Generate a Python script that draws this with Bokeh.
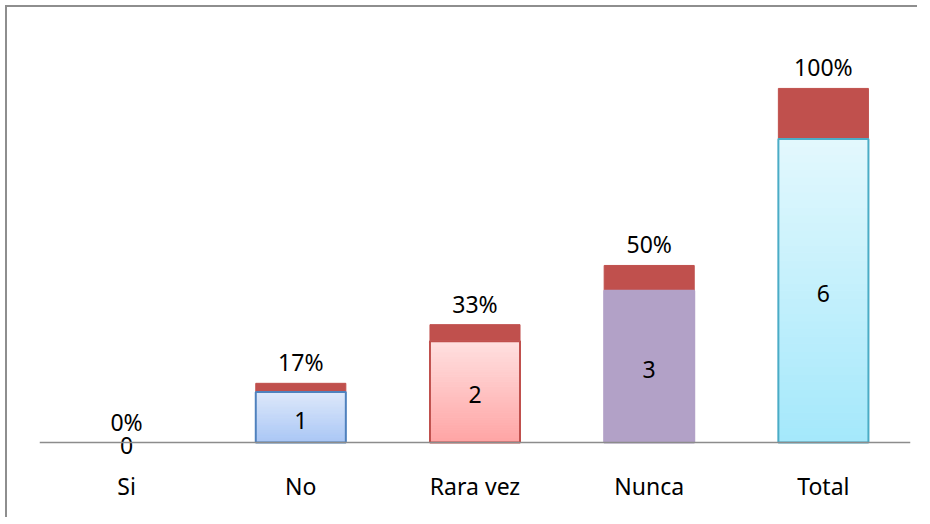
from bokeh.plotting import figure
from bokeh.models import ColumnDataSource, FactorRange, Range1d, Span
from bokeh.core.properties import value
from bokeh.embed import file_html
from bokeh.resources import INLINE

# ---- data ----
categories = ["Si", "No", "Rara vez", "Nunca", "Total"]
counts = [0, 1, 2, 3, 6]
shares = [0.0, 0.17, 0.33, 0.50, 1.00]
count_labels = ["0", "1", "2", "3", "6"]
share_labels = ["0%", "17%", "33%", "50%", "100%"]

# ---- styles ----
grad_top = ["#ffffff", "#dde8fa", "#ffe0e0", "#b2a1c7", "#e3f8fd"]
grad_bottom = ["#ffffff", "#a9c6f5", "#ffa4a4", "#b2a1c7", "#a4e8fb"]
count_line = ["#ffffff", "#4f81bd", "#c0504d", "#b2a1c7", "#4bacc6"]
count_line_alpha = [0.0, 1.0, 1.0, 1.0, 1.0]
share_color = "#c0504d"
FONT = "Noto Sans"
FS = "23px"
N_STEPS = 40


def hex2rgb(h):
    h = h.lstrip("#")
    return tuple(int(h[i:i + 2], 16) for i in (0, 2, 4))


def mix(c1, c2, t):
    a, b = hex2rgb(c1), hex2rgb(c2)
    return "#%02x%02x%02x" % tuple(round(a[i] + (b[i] - a[i]) * t) for i in range(3))


tops = [c + s for c, s in zip(counts, shares)]
solid_alpha = [1.0 if a == b else 0.0 for a, b in zip(grad_top, grad_bottom)]
src = ColumnDataSource(dict(
    cat=categories, counts=counts, shares=shares, tops=tops,
    mid=[c / 2 for c in counts],
    count_labels=count_labels, share_labels=share_labels,
    line=count_line, line_alpha=count_line_alpha,
    solid=grad_top, solid_alpha=solid_alpha,
))

# gradient slices of the count bars (derived from the counts)
gx, gb, gt, gc = [], [], [], []
for cat, c, ctop, cbot in zip(categories, counts, grad_top, grad_bottom):
    if c <= 0 or ctop == cbot:
        continue
    for k in range(N_STEPS):
        gx.append(cat)
        gb.append(c * k / N_STEPS)
        gt.append(c * (k + 1) / N_STEPS)
        gc.append(mix(cbot, ctop, (k + 0.5) / N_STEPS))
grad_src = ColumnDataSource(dict(x=gx, bottom=gb, top=gt, color=gc))

p = figure(
    x_range=FactorRange(*categories), y_range=Range1d(-0.336, 8.6),
    width=912, height=512, output_backend="svg", toolbar_location=None,
    min_border_left=32, min_border_right=9, min_border_top=0, min_border_bottom=60,
    styles={"border-left": "2px solid #8e8e8e", "border-top": "2px solid #8e8e8e",
            "margin-left": "5px", "margin-top": "5px"},
)
p.outline_line_color = None
p.background_fill_color = "white"
p.border_fill_color = "white"
p.xgrid.grid_line_color = None
p.ygrid.grid_line_color = None
p.yaxis.visible = False

p.xaxis.axis_line_color = None
p.xaxis.major_tick_line_color = None
p.xaxis.minor_tick_line_color = None
p.xaxis.major_label_text_font = FONT
p.xaxis.major_label_text_font_size = FS
p.xaxis.major_label_text_color = "black"
p.xaxis.major_label_standoff = 4

bar_w = 0.517
p.vbar(x="cat", bottom="counts", top="tops", width=bar_w, source=src,
       fill_color=share_color, line_color=share_color, line_width=1)
p.vbar(x="x", bottom="bottom", top="top", width=bar_w, source=grad_src,
       fill_color="color", line_color="color", line_width=1)
p.vbar(x="cat", bottom=0, top="counts", width=bar_w, source=src,
       fill_color="solid", fill_alpha="solid_alpha",
       line_color="line", line_alpha="line_alpha", line_width=2)

p.add_layout(Span(location=0, dimension="width", line_color="#8c8c8c", line_width=1.5))

p.text(x="cat", y="mid", text="count_labels", source=src,
       text_font=value(FONT), text_font_size=FS, text_color="black",
       text_align="center", text_baseline="middle", y_offset=3)
p.text(x="cat", y="tops", text="share_labels", source=src,
       text_font=value(FONT), text_font_size=FS, text_color="black",
       text_align="center", text_baseline="middle", y_offset=-21)

open("out.html", "w").write(file_html(p, INLINE))
